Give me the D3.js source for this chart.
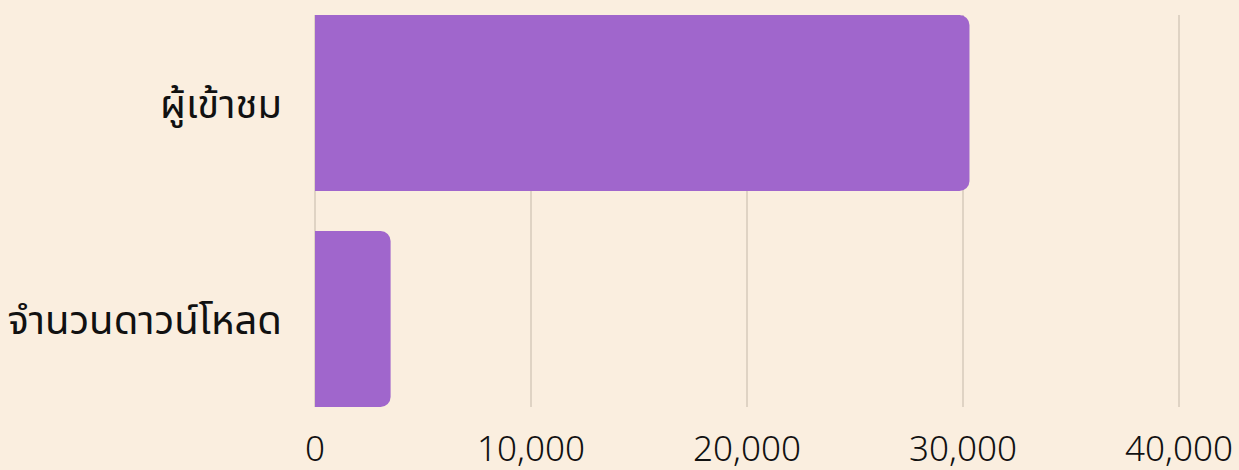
<!DOCTYPE html>
<html lang="th">
<head>
<meta charset="utf-8">
<script src="https://cdn.jsdelivr.net/npm/d3@7"></script>
<style>
  body { margin: 0; background: #faeedf; }
  svg { display: block; }
  text { font-family: "Noto Sans", "Noto Sans Thai", sans-serif; fill: #111; }
</style>
</head>
<body>
<script>
var categories = ["ผู้เข้าชม", "จำนวนดาวน์โหลด"];
var values = [30300, 3500];
var tickValues = [0, 10000, 20000, 30000, 40000];

var width = 1239, height = 470;
var plotLeft = 315, plotRight = 1179, plotTop = 15, plotBottom = 407;

var svg = d3.select("body").append("svg")
    .attr("width", width)
    .attr("height", height);

svg.append("rect").attr("width", width).attr("height", height).attr("fill", "#faeedf");

var x = d3.scaleLinear().domain([0, 40000]).range([plotLeft, plotRight]);
var y = d3.scaleBand().domain(categories).range([plotTop, plotBottom]).paddingInner(0.185).paddingOuter(0);

// gridlines
svg.append("g").selectAll("line")
    .data(tickValues)
    .enter().append("line")
    .attr("x1", function(d) { return x(d); })
    .attr("x2", function(d) { return x(d); })
    .attr("y1", plotTop)
    .attr("y2", plotBottom)
    .attr("stroke", "#d6cabb")
    .attr("stroke-width", 1.5);

// bars, rounded on the right end
var r = 10;
svg.append("g").selectAll("path")
    .data(categories)
    .enter().append("path")
    .attr("fill", "#a066cc")
    .attr("d", function(d, i) {
        var x0 = x(0), x1 = x(values[i]), y0 = y(d), h = y.bandwidth();
        return "M" + x0 + "," + y0 +
            "H" + (x1 - r) +
            "A" + r + "," + r + " 0 0 1 " + x1 + "," + (y0 + r) +
            "V" + (y0 + h - r) +
            "A" + r + "," + r + " 0 0 1 " + (x1 - r) + "," + (y0 + h) +
            "H" + x0 + "Z";
    });

// x axis labels
var fmt = d3.format(",");
svg.append("g").selectAll("text")
    .data(tickValues)
    .enter().append("text")
    .attr("x", function(d) { return x(d); })
    .attr("y", 461)
    .attr("text-anchor", "middle")
    .attr("font-size", 35)
    .attr("font-weight", 300)
    .text(function(d) { return fmt(d); });

// category labels
svg.append("g").selectAll("text")
    .data(categories)
    .enter().append("text")
    .attr("x", 282)
    .attr("y", function(d) { return y(d) + y.bandwidth() / 2; })
    .attr("dy", "0.38em")
    .attr("text-anchor", "end")
    .attr("font-size", 40)
    .text(function(d) { return d; });
</script>
</body>
</html>
